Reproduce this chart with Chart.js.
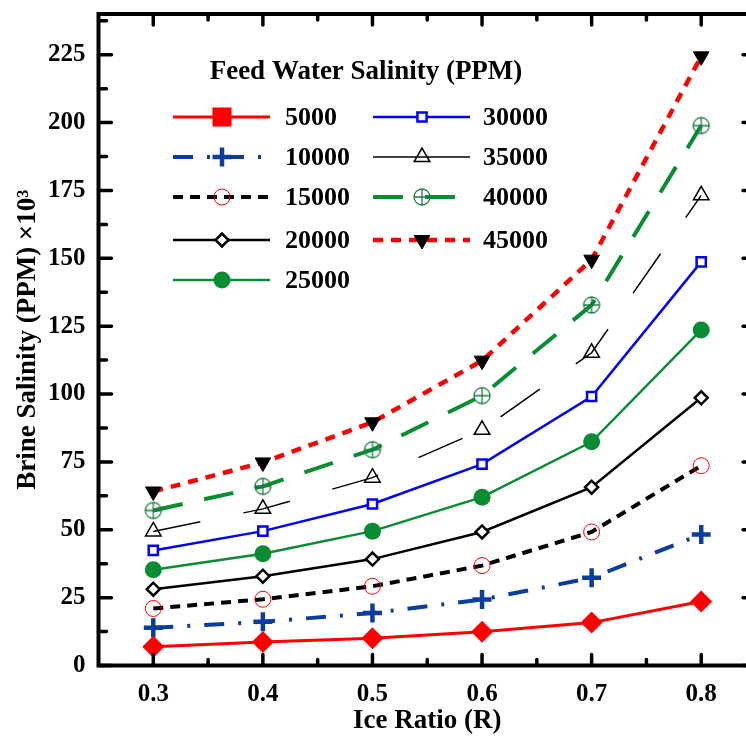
<!DOCTYPE html>
<html>
<head>
<meta charset="utf-8">
<script src="https://cdn.jsdelivr.net/npm/chart.js@4.4.1/dist/chart.umd.min.js"></script>
<style>
  html, body { margin: 0; padding: 0; background: #fff; overflow: hidden; }
  #wrap { width: 770px; height: 739px; }
</style>
</head>
<body>
<div id="wrap"><canvas id="chart" width="770" height="739"></canvas></div>
<script>
// --- DATA ---
const iceRatio = [0.3, 0.4, 0.5, 0.6, 0.7, 0.8];
const feedLabels = ["5000", "10000", "15000", "20000", "25000", "30000", "35000", "40000", "45000"];
const brine5000  = [6.9, 8.7, 10.0, 12.4, 15.8, 23.6];
const brine10000 = [13.9, 16.1, 19.3, 24.3, 32.3, 48.3];
const brine15000 = [21.0, 24.4, 29.2, 36.8, 49.2, 73.6];
const brine20000 = [28.1, 32.9, 39.2, 49.2, 65.7, 98.6];
const brine25000 = [35.3, 41.2, 49.5, 62.0, 82.4, 123.6];
const brine30000 = [42.4, 49.5, 59.5, 74.2, 99.1, 148.7];
const brine35000 = [49.4, 57.7, 69.2, 86.8, 115.2, 173.2];
const brine40000 = [57.1, 66.0, 79.5, 99.4, 132.8, 198.9];
const brine45000 = [64.1, 74.8, 89.6, 112.3, 149.5, 224.4];
const xTickVals = [0.3, 0.4, 0.5, 0.6, 0.7, 0.8];
const yTickVals = [0, 25, 50, 75, 100, 125, 150, 175, 200, 225];

const SERIF = '"Liberation Serif", "Times New Roman", serif';
const pts = arr => arr.map((v, i) => ({ x: iceRatio[i], y: v }));

// circle with crosshair marker for 40000
const oplus = (() => {
    const c = document.createElement("canvas");
    c.width = 20; c.height = 20;
    const g = c.getContext("2d");
    g.strokeStyle = "#1e7b40"; g.lineWidth = 1.3;
    g.beginPath(); g.arc(10, 10, 8, 0, Math.PI * 2); g.stroke();
    g.beginPath(); g.moveTo(2, 10); g.lineTo(18, 10); g.moveTo(10, 2); g.lineTo(10, 18); g.stroke();
    return c;
})();

const series = [
    { d: brine5000,  color: "#ff0000", w: 3,   dash: [],            ps: "rectRot", r: 11, pb: "#ff0000", pc: "#ff0000", pw: 0, legendPs: "rect", legendR: 13.5 },
    { d: brine10000, color: "#0b3d9c", w: 4,   dash: [20, 14, 3, 14], ps: "cross", r: 9.5, pb: "#0b3d9c", pc: "#0b3d9c", pw: 4.5 },
    { d: brine15000, color: "#000000", w: 4,   dash: [10, 7],       ps: "circle",  r: 8,  pb: "rgba(0,0,0,0)", pc: "#ff0000", pw: 1 },
    { d: brine20000, color: "#000000", w: 2.5, dash: [],            ps: "rectRot", r: 6.5, pb: "#ffffff", pc: "#000000", pw: 2.5 },
    { d: brine25000, color: "#0a8c32", w: 2.5, dash: [],            ps: "circle",  r: 8.5, pb: "#0a8c32", pc: "#0a8c32", pw: 0 },
    { d: brine30000, color: "#0000ff", w: 2.5, dash: [],            ps: "rect",    r: 6.5, pb: "#ffffff", pc: "#0000ff", pw: 2.5 },
    { d: brine35000, color: "#000000", w: 1.5, dash: [48, 44],      ps: "triangle", r: 9, pb: "rgba(0,0,0,0)", pc: "#000000", pw: 1.5, legendDash: [] },
    { d: brine40000, color: "#0a8c32", w: 4,   dash: [30, 22],      ps: oplus,     r: 9,  pb: "#ffffff", pc: "#1e7b40", pw: 1 },
    { d: brine45000, color: "#ff0000", w: 4.5, dash: [10, 8],       ps: "triangle", r: 9, pb: "#000000", pc: "#000000", pw: 1, rot: 180 }
];

const datasets = series.map((s, i) => ({
    label: feedLabels[i],
    data: pts(s.d),
    borderColor: s.color,
    borderWidth: s.w,
    borderDash: s.dash,
    pointStyle: s.ps,
    pointRadius: s.r,
    pointHoverRadius: s.r,
    pointRotation: s.rot || 0,
    pointBackgroundColor: s.pb,
    pointBorderColor: s.pc,
    pointBorderWidth: s.pw,
    tension: 0,
    fill: false
}));

// --- FRAME, INWARD TICKS, LEGEND ---
const framePlugin = {
    id: "frame",
    afterDraw(chart) {
        const { ctx, chartArea: a, scales: { x, y } } = chart;
        ctx.save();
        ctx.strokeStyle = "#000"; ctx.lineCap = "round"; ctx.lineWidth = 3.5;
        ctx.beginPath();
        const tick = (x0, y0, x1, y1) => { ctx.moveTo(x0, y0); ctx.lineTo(x1, y1); };
        xTickVals.forEach(v => {
            const px = x.getPixelForValue(v);
            tick(px, a.bottom, px, a.bottom - 11); tick(px, a.top, px, a.top + 11);
            const mx = x.getPixelForValue(v + 0.05);
            if (v < 0.8) { tick(mx, a.bottom, mx, a.bottom - 6); tick(mx, a.top, mx, a.top + 6); }
        });
        yTickVals.forEach(v => {
            const py = y.getPixelForValue(v);
            tick(a.left, py, a.left + 13, py); tick(a.right, py, a.right - 13, py);
            const my = y.getPixelForValue(v + 12.5);
            tick(a.left, my, a.left + 8, my); tick(a.right, my, a.right - 8, my);
        });
        ctx.stroke();
        ctx.lineCap = "butt"; ctx.lineWidth = 4;
        ctx.strokeRect(a.left, a.top, a.right - a.left, a.bottom - a.top);

        // legend
        ctx.fillStyle = "#000";
        ctx.font = "bold 27px " + SERIF;
        ctx.textAlign = "center"; ctx.textBaseline = "middle";
        ctx.fillText("Feed Water Salinity (PPM)", 366, 72);
        const rowsY = [117, 157, 197, 240, 280];
        const cols = [{ x0: 173, x1: 270, m: 222, t: 285 }, { x0: 373, x1: 470, m: 422, t: 483 }];
        series.forEach((s, i) => {
            const c = cols[i < 5 ? 0 : 1], yy = rowsY[i < 5 ? i : i - 5];
            ctx.setLineDash(s.legendDash || s.dash);
            ctx.lineWidth = s.w; ctx.strokeStyle = s.color; ctx.lineCap = "butt";
            ctx.beginPath(); ctx.moveTo(c.x0, yy); ctx.lineTo(c.x1, yy); ctx.stroke();
            ctx.setLineDash([]);
            ctx.fillStyle = s.pb; ctx.strokeStyle = s.pc; ctx.lineWidth = s.pw;
            Chart.helpers.drawPoint(ctx, {
                pointStyle: s.legendPs || s.ps, radius: s.legendR || s.r,
                rotation: s.rot || 0, borderWidth: s.pw
            }, c.m, yy);
            ctx.fillStyle = "#000";
            ctx.font = "bold 26px " + SERIF;
            ctx.textAlign = "left";
            ctx.fillText(feedLabels[i], c.t, yy + 1);
        });
        ctx.restore();
    }
};

new Chart(document.getElementById("chart"), {
    type: "line",
    data: { datasets },
    options: {
        responsive: false,
        animation: false,
        layout: { padding: { top: 12, right: 12, left: 0, bottom: 0 } },
        plugins: { legend: { display: false }, tooltip: { enabled: false } },
        scales: {
            x: {
                type: "linear", min: 0.25, max: 0.85,
                afterBuildTicks: s => { s.ticks = xTickVals.map(v => ({ value: v })); },
                afterFit: s => { s.height = 73.5; s.paddingLeft = 0; s.paddingRight = 0; },
                grid: { display: false, drawTicks: false },
                border: { display: false },
                ticks: { color: "#000", padding: 14, font: { family: SERIF, size: 25, weight: "bold" }, callback: v => v.toFixed(1) },
                title: { display: true, text: "Ice Ratio (R)", color: "#000", padding: { top: 0, bottom: 2 }, font: { family: SERIF, size: 27, weight: "bold" } }
            },
            y: {
                min: 0, max: 240,
                afterBuildTicks: s => { s.ticks = yTickVals.map(v => ({ value: v })); },
                afterFit: s => { s.width = 98.5; s.paddingTop = 0; s.paddingBottom = 0; },
                grid: { display: false, drawTicks: false },
                border: { display: false },
                ticks: { color: "#000", padding: 13, font: { family: SERIF, size: 25, weight: "bold" } },
                title: { display: true, text: "Brine Salinity (PPM) ×10³", color: "#000", padding: { top: 12, bottom: 0 }, font: { family: SERIF, size: 27, weight: "bold" } }
            }
        }
    },
    plugins: [framePlugin]
});
</script>
</body>
</html>
